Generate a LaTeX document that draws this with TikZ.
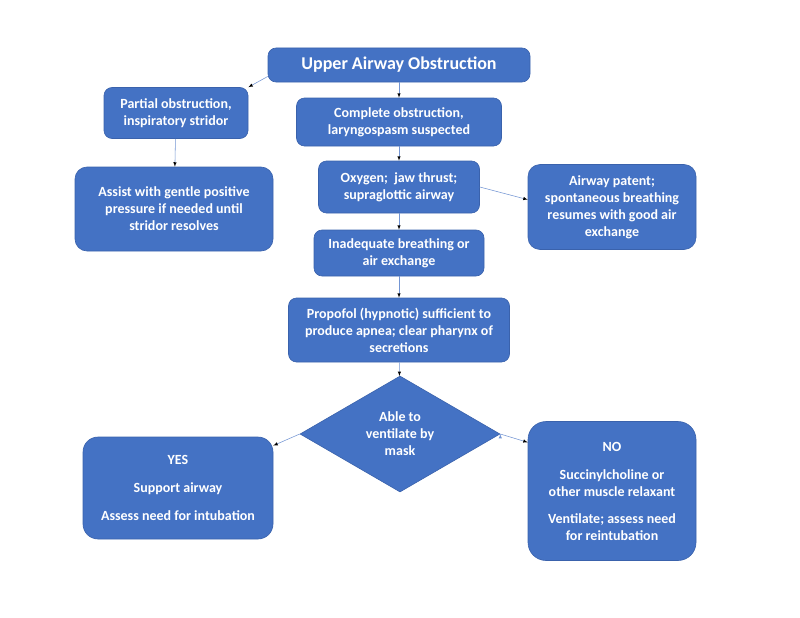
\documentclass[tikz,border=0pt]{standalone}
\usepackage{fontspec}
\setmainfont{Carlito}
\usetikzlibrary{arrows,shapes.geometric}
\definecolor{kastenblau}{HTML}{4472C4}
\definecolor{randblau}{HTML}{3A62AC}

\begin{document}
\begin{tikzpicture}[x=1pt,y=-1pt,
    kasten/.style={
      rectangle,
      rounded corners=8pt,
      fill=kastenblau,
      draw=randblau,
      line width=.6pt,
      text=white,
      font=\bfseries\fontsize{14}{17}\selectfont,
      align=center,
      inner sep=0pt},
    raute/.style={
      diamond,
      aspect=1.72,
      fill=kastenblau,
      draw=randblau,
      line width=.6pt,
      line join=round,
      text=white,
      font=\bfseries\fontsize{14}{17}\selectfont,
      align=center,
      inner sep=0pt},
    pfeil/.style={->,>=latex,draw=kastenblau!75,line width=.55pt}
    ]

  \useasboundingbox (0,0) rectangle (800,618);

  \node at (399,65) (kasten0) [kasten, minimum width=262pt, minimum height=34pt,
    font=\bfseries\fontsize{18}{21}\selectfont] {Upper Airway Obstruction};
  \node at (176,113) (kasten1) [kasten, minimum width=144pt, minimum height=51pt]
    {Partial obstruction,\\inspiratory stridor};
  \node at (399,122) (kasten2) [kasten, minimum width=205pt, minimum height=48pt]
    {Complete obstruction,\\laryngospasm suspected};
  \node at (174,209) (kasten3) [kasten, minimum width=198pt, minimum height=84pt, rounded corners=12pt]
    {Assist with gentle positive\\pressure if needed until\\stridor resolves};
  \node at (399,187) (kasten4) [kasten, minimum width=161pt, minimum height=52pt]
    {Oxygen;\ \ jaw thrust;\\supraglottic airway};
  \node at (612,207) (kasten5) [kasten, minimum width=168pt, minimum height=85pt, rounded corners=12pt]
    {Airway patent;\\spontaneous breathing\\resumes with good air\\exchange};
  \node at (399,253) (kasten6) [kasten, minimum width=170pt, minimum height=46pt]
    {Inadequate breathing or\\air exchange};
  \node at (399,330) (kasten7) [kasten, minimum width=221pt, minimum height=64pt]
    {Propofol (hypnotic) sufficient to\\produce apnea; clear pharynx of\\secretions};

  \node at (400,434) (raute) [raute, minimum width=200pt, minimum height=116pt]
    {Able to\\ventilate by\\mask};

  \node at (178,488) (kasten8) [kasten, minimum width=190pt, minimum height=102pt, rounded corners=15pt]
    {YES\\[11pt]Support airway\\[11pt]Assess need for intubation};
  \node at (612,491) (kasten9) [kasten, minimum width=168pt, minimum height=139pt, rounded corners=18pt]
    {NO\\[11pt]Succinylcholine or\\other muscle relaxant\\[10pt]Ventilate; assess need\\for reintubation};

  \path[pfeil]
        (kasten0.185) edge (kasten1.north east)
        (kasten0) edge (kasten2)
        (kasten1) edge (kasten3)
        (kasten2) edge (kasten4)
        (kasten4.east) edge (kasten5.175)
        (kasten4) edge (kasten6)
        (kasten6) edge (kasten7)
        (kasten7) edge (raute)
        (raute.west) edge (kasten8.24)
        (raute.east) edge (kasten9.150)
   ;

\end{tikzpicture}
\end{document}
